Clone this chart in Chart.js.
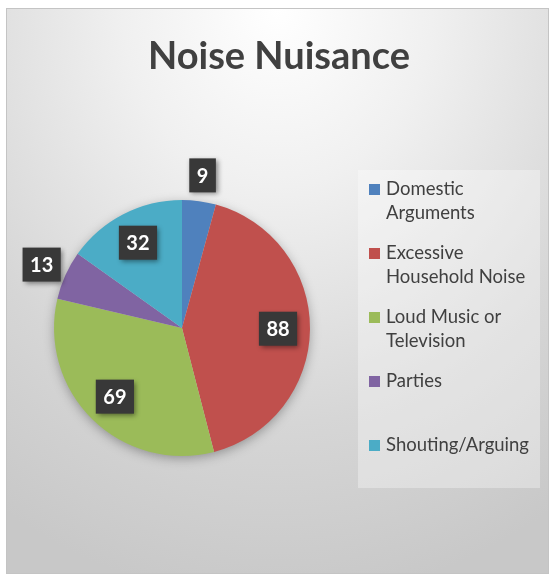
<!DOCTYPE html>
<html>
<head>
<meta charset="utf-8">
<script src="https://cdn.jsdelivr.net/npm/chart.js@4"></script>
<style>
  body { margin: 0; background: #fff; }
  #frame {
    position: absolute; left: 6px; top: 8px; width: 541px; height: 564px;
    border: 1px solid #c4c4c4;
    background: radial-gradient(ellipse 95% 105% at 50% 0%, #ffffff 0%, #f0f0f0 30%, #d6d6d6 70%, #c8c8c8 100%);
  }
  #wrap { position: absolute; left: 0; top: 0; width: 551px; height: 575px; }
</style>
</head>
<body>
<div id="frame"></div>
<div id="wrap"><canvas id="myChart"></canvas></div>
<script>
  const title = 'Noise Nuisance';

  const labels = [
    'Domestic Arguments',
    'Excessive Household Noise',
    'Loud Music or Television',
    'Parties',
    'Shouting/Arguing',
  ];

  const counts = [9, 88, 69, 13, 32];

  const colors = ['#4F81BD', '#C0504D', '#9BBB59', '#8064A2', '#4BACC6'];

  // soft shadow under the pie
  const pieShadow = {
    id: 'pieShadow',
    beforeDatasetsDraw(chart) {
      const arc = chart.getDatasetMeta(0).data[0];
      if (!arc) return;
      const ctx = chart.ctx;
      ctx.save();
      ctx.shadowColor = 'rgba(0,0,0,0.35)';
      ctx.shadowBlur = 12;
      ctx.shadowOffsetY = 3;
      ctx.fillStyle = '#cccccc';
      ctx.beginPath();
      ctx.arc(arc.x, arc.y, arc.outerRadius - 1, 0, Math.PI * 2);
      ctx.fill();
      ctx.restore();
    }
  };

  // dark value boxes, small slices go outside
  const valueBoxes = {
    id: 'valueBoxes',
    afterDatasetsDraw(chart) {
      const ctx = chart.ctx;
      const meta = chart.getDatasetMeta(0);
      const total = counts.reduce((a, b) => a + b, 0);
      ctx.save();
      ctx.font = 'bold 20px Lato, sans-serif';
      meta.data.forEach((arc, i) => {
        const mid = (arc.startAngle + arc.endAngle) / 2;
        const small = counts[i] / total < 0.1;
        const d = small ? arc.outerRadius + 26 : arc.outerRadius * 0.75;
        const cx = arc.x + Math.cos(mid) * d;
        const cy = arc.y + Math.sin(mid) * d;
        const txt = String(counts[i]);
        const w = ctx.measureText(txt).width + 15;
        const h = 34;
        ctx.save();
        ctx.shadowColor = 'rgba(0,0,0,0.45)';
        ctx.shadowBlur = 5;
        ctx.shadowOffsetX = 2;
        ctx.shadowOffsetY = 2;
        ctx.fillStyle = '#383838';
        ctx.fillRect(cx - w / 2, cy - h / 2, w, h);
        ctx.restore();
        ctx.fillStyle = '#ffffff';
        ctx.textAlign = 'center';
        ctx.textBaseline = 'middle';
        ctx.fillText(txt, cx, cy + 1);
      });
      ctx.restore();
    }
  };

  // title centred over the whole frame, legend box on the right
  const sideLegend = {
    id: 'sideLegend',
    afterDraw(chart) {
      const ctx = chart.ctx;
      ctx.save();
      ctx.fillStyle = '#404040';
      ctx.font = 'bold 38px Lato, sans-serif';
      ctx.textAlign = 'center';
      ctx.textBaseline = 'middle';
      ctx.fillText(title, 279, 57);

      ctx.textAlign = 'left';
      ctx.fillStyle = 'rgba(255,255,255,0.32)';
      ctx.fillRect(358, 170, 182, 318);
      ctx.font = '18.5px Lato, sans-serif';
      labels.forEach((lab, i) => {
        const y = 189 + i * 64;
        ctx.fillStyle = colors[i];
        ctx.fillRect(369, y - 5, 11, 11);
        const words = lab.split(' ');
        const lines = [];
        let cur = '';
        words.forEach(wd => {
          const test = cur ? cur + ' ' + wd : wd;
          if (cur && ctx.measureText(test).width > 158) {
            lines.push(cur);
            cur = wd;
          } else {
            cur = test;
          }
        });
        lines.push(cur);
        ctx.fillStyle = '#404040';
        lines.forEach((ln, j) => ctx.fillText(ln, 386, y + j * 24));
      });
      ctx.restore();
    }
  };

  const data = {
    labels: labels,
    datasets: [{
      data: counts,
      backgroundColor: colors,
      borderWidth: 0,
    }]
  };

  const config = {
    type: 'pie',
    data: data,
    options: {
      responsive: true,
      maintainAspectRatio: false,
      animation: false,
      layout: { padding: { left: 54, right: 241, top: 200, bottom: 119 } },
      plugins: {
        legend: { display: false },
        tooltip: { enabled: false },
        title: { display: false }
      }
    },
    plugins: [pieShadow, valueBoxes, sideLegend]
  };

  const myChart = new Chart(
    document.getElementById('myChart'),
    config
  );
</script>
</body>
</html>
